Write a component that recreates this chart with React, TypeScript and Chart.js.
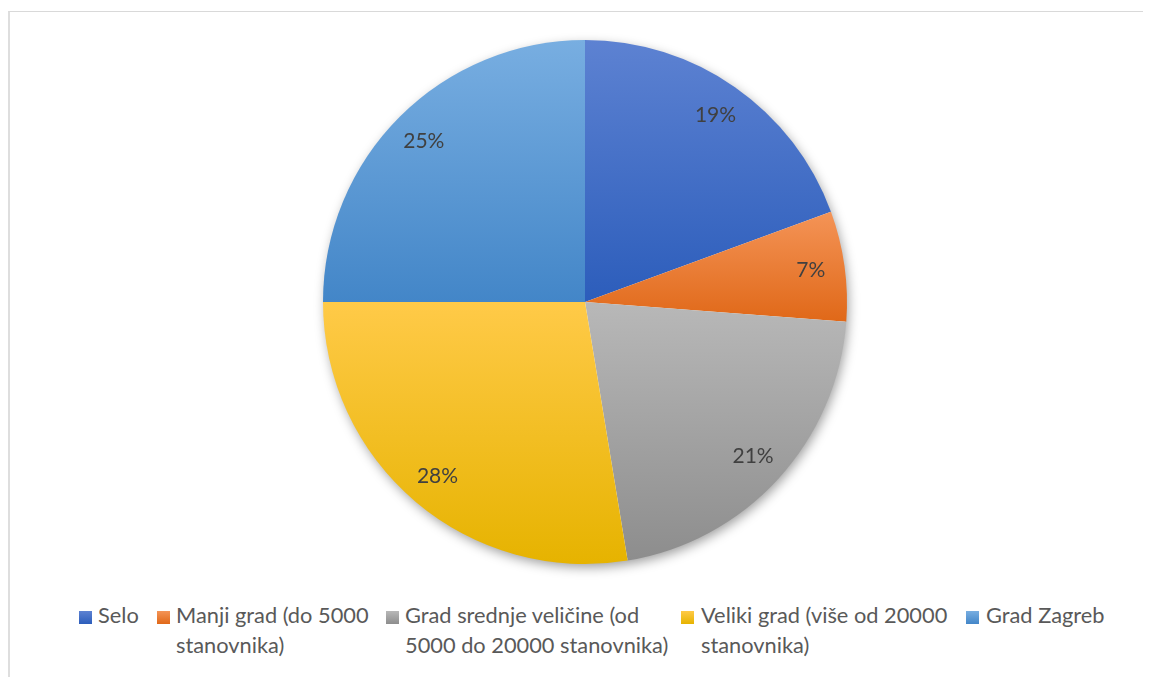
import { useEffect, useRef } from "react";
import { Chart, registerables } from "chart.js";

Chart.register(...registerables);

// ---- data ----
const CATEGORIES = [
  "Selo",
  "Manji grad (do 5000 stanovnika)",
  "Grad srednje veličine (od 5000 do 20000 stanovnika)",
  "Veliki grad (više od 20000 stanovnika)",
  "Grad Zagreb",
];
const VALUES = [19.4, 6.8, 21.2, 27.6, 25.0];
const LEGEND_LINES = [
  ["Selo"],
  ["Manji grad (do 5000", "stanovnika)"],
  ["Grad srednje veličine (od", "5000 do 20000 stanovnika)"],
  ["Veliki grad (više od 20000", "stanovnika)"],
  ["Grad Zagreb"],
];
const BASE_COLORS = ["#4472C4", "#ED7D31", "#A5A5A5", "#FFC000", "#5B9BD5"];
const GRAD_TOP = ["#5d82d2", "#f49457", "#b8b8b8", "#ffca48", "#78aee1"];
const GRAD_BOTTOM = ["#2c5dbb", "#e06818", "#8d8d8d", "#e6b300", "#4386c8"];

// ---- layout (styles) ----
const LEGEND_SQUARE_X = [79, 157, 386, 681, 966];
const LEGEND_TEXT_X = [98, 176, 405, 701, 986];
const FONT = "Lato, 'Open Sans', sans-serif";

function sliceGradient(c: any) {
  const chart = c.chart;
  const area = chart.chartArea;
  const i = c.dataIndex;
  if (!area || i === undefined) return BASE_COLORS[i ?? 0];
  const data = c.dataset.data as number[];
  const total = data.reduce((a, b) => a + b, 0);
  let before = 0;
  for (let k = 0; k < i; k++) before += data[k];
  const start = -Math.PI / 2 + (before / total) * 2 * Math.PI;
  const end = start + (data[i] / total) * 2 * Math.PI;
  const cy = (area.top + area.bottom) / 2;
  const R = Math.min(area.right - area.left, area.bottom - area.top) / 2;
  let ymin = cy;
  let ymax = cy;
  for (const a of [start, end]) {
    const y = cy + R * Math.sin(a);
    ymin = Math.min(ymin, y);
    ymax = Math.max(ymax, y);
  }
  const within = (t: number) => {
    for (let k = -1; k <= 2; k++) {
      const tt = t + 2 * Math.PI * k;
      if (tt >= start && tt <= end) return true;
    }
    return false;
  };
  if (within(-Math.PI / 2)) ymin = cy - R;
  if (within(Math.PI / 2)) ymax = cy + R;
  if (ymax - ymin < 1) ymax = ymin + 1;
  const g = chart.ctx.createLinearGradient(0, ymin, 0, ymax);
  g.addColorStop(0, GRAD_TOP[i]);
  g.addColorStop(1, GRAD_BOTTOM[i]);
  return g;
}

const shadowPlugin = {
  id: "pieShadow",
  beforeDatasetsDraw(chart: any) {
    const arc = chart.getDatasetMeta(0).data[0];
    if (!arc) return;
    const { x, y, outerRadius } = arc.getProps(["x", "y", "outerRadius"], true);
    const ctx = chart.ctx;
    ctx.save();
    ctx.shadowColor = "rgba(0,0,0,0.4)";
    ctx.shadowBlur = 12;
    ctx.shadowOffsetX = 2;
    ctx.shadowOffsetY = 4;
    ctx.beginPath();
    ctx.arc(x, y, outerRadius - 1, 0, Math.PI * 2);
    ctx.fillStyle = "#ffffff";
    ctx.fill();
    ctx.restore();
  },
};

const labelPlugin = {
  id: "pieLabels",
  afterDatasetsDraw(chart: any) {
    const meta = chart.getDatasetMeta(0);
    const data = chart.data.datasets[0].data as number[];
    const total = data.reduce((a, b) => a + b, 0);
    const ctx = chart.ctx;
    ctx.save();
    ctx.font = `21px ${FONT}`;
    ctx.fillStyle = "#404040";
    ctx.textAlign = "center";
    ctx.textBaseline = "middle";
    meta.data.forEach((arc: any, i: number) => {
      const { x, y, startAngle, endAngle, outerRadius } = arc.getProps(
        ["x", "y", "startAngle", "endAngle", "outerRadius"],
        true
      );
      const mid = (startAngle + endAngle) / 2;
      const r = outerRadius * 0.87;
      const pct = Math.round((data[i] / total) * 100);
      ctx.fillText(`${pct}%`, x + Math.cos(mid) * r, y + Math.sin(mid) * r);
    });
    ctx.restore();
  },
};

export default function App() {
  const canvasRef = useRef<HTMLCanvasElement | null>(null);

  useEffect(() => {
    if (!canvasRef.current) return;
    const chart = new Chart(canvasRef.current, {
      type: "pie",
      data: {
        labels: CATEGORIES,
        datasets: [
          {
            data: VALUES,
            backgroundColor: sliceGradient as any,
            borderWidth: 0,
          },
        ],
      },
      options: {
        animation: false,
        responsive: false,
        events: [],
        layout: { padding: { top: 32, bottom: 24, left: 11, right: 0 } },
        plugins: {
          legend: { display: false },
          tooltip: { enabled: false },
        },
      },
      plugins: [shadowPlugin, labelPlugin],
    });
    return () => chart.destroy();
  }, []);

  return (
    <div style={{ position: "relative", width: 1143, height: 669, overflow: "hidden", fontFamily: FONT }}>
      <div
        style={{
          position: "absolute",
          left: 0,
          top: 3,
          width: 1200,
          height: 700,
          borderTop: "1px solid #d9d9d9",
          borderLeft: "2px solid #dedede",
        }}
      />
      <canvas
        ref={canvasRef}
        width={1143}
        height={580}
        style={{ position: "absolute", left: 0, top: 0, width: 1143, height: 580 }}
      />
      {LEGEND_LINES.map((lines, i) => (
        <div key={i}>
          <div
            style={{
              position: "absolute",
              left: LEGEND_SQUARE_X[i] - 8,
              top: 611 - 8,
              width: 13,
              height: 13,
              background: `linear-gradient(${GRAD_TOP[i]}, ${GRAD_BOTTOM[i]})`,
            }}
          />
          <div
            style={{
              position: "absolute",
              left: LEGEND_TEXT_X[i] - 8,
              top: 600 - 8,
              fontSize: 21.8,
              lineHeight: "30px",
              color: "#595959",
              whiteSpace: "nowrap",
            }}
          >
            {lines.map((l, j) => (
              <div key={j}>{l}</div>
            ))}
          </div>
        </div>
      ))}
    </div>
  );
}
